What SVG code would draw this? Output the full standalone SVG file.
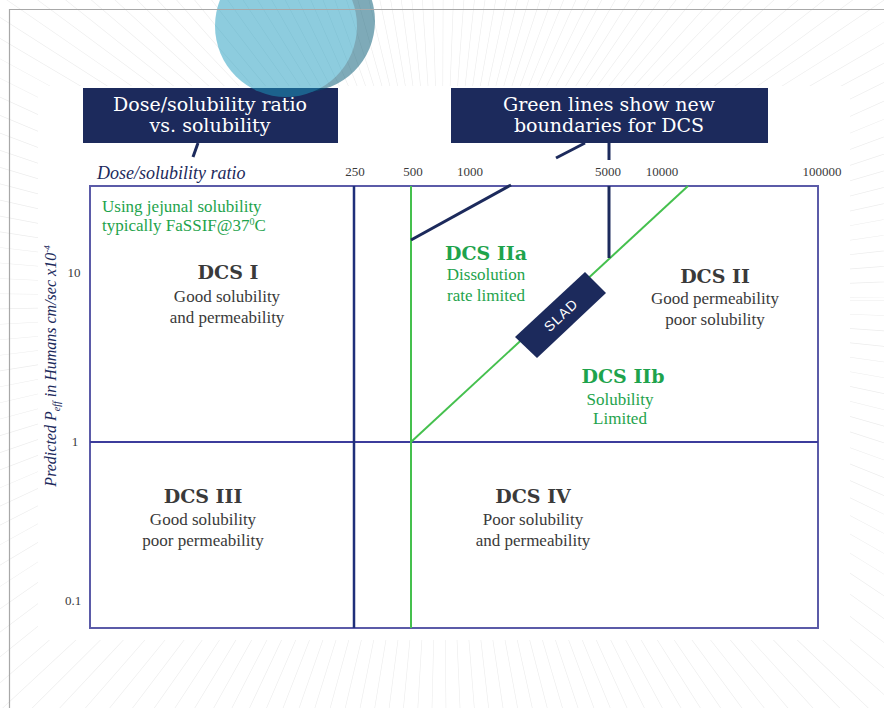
<svg xmlns="http://www.w3.org/2000/svg" width="884" height="708" viewBox="0 0 884 708">
<defs>
<style>
.tick{font-family:"Liberation Serif",serif;font-size:13px;fill:#3a3a3a;text-anchor:middle}
.head{font-family:"DejaVu Serif",serif;font-weight:bold;font-size:19px;fill:#3a3a3a;text-anchor:middle}
.body{font-family:"Liberation Serif",serif;font-size:17px;fill:#3a3a3a;text-anchor:middle}
.green{fill:#1ea34c}
.box{fill:#1c2a5c}
.boxt{font-family:"DejaVu Serif",serif;font-size:19px;fill:#fff;text-anchor:middle}
.navy{stroke:#1c2a5c;stroke-width:3;fill:none}
.gl{stroke:#45c04e;stroke-width:2;fill:none}
</style>
</defs>
<rect width="884" height="708" fill="#fff"/>
<circle cx="442" cy="300" r="450" fill="none" stroke="#ececec" stroke-width="900" stroke-dasharray="0.6 15"/>
<rect x="38" y="86" width="812" height="554" fill="#fff"/>

<g id="chart">
<rect x="90" y="186" width="728" height="442" fill="#fff" stroke="#5b5ba8" stroke-width="2"/>
<line x1="90" y1="442" x2="818" y2="442" stroke="#3c3c9c" stroke-width="2"/>
<line x1="354" y1="186" x2="354" y2="628" stroke="#1f2f7a" stroke-width="2.5"/>
<line x1="411" y1="186" x2="411" y2="628" class="gl"/>
<line x1="411" y1="442" x2="688" y2="186" class="gl"/>
</g>

<g id="axis-labels">
<text x="97" y="179" font-family="Liberation Serif,serif" font-style="italic" font-size="18" fill="#1c2a5c">Dose/solubility ratio</text>
<text class="tick" x="355" y="176">250</text>
<text class="tick" x="413" y="176">500</text>
<text class="tick" x="470" y="176">1000</text>
<text class="tick" x="608" y="176">5000</text>
<text class="tick" x="662" y="176">10000</text>
<text class="tick" x="822" y="176">100000</text>
<text class="tick" x="74" y="277">10</text>
<text class="tick" x="75" y="446">1</text>
<text class="tick" x="73" y="605">0.1</text>
<text transform="translate(56,366) rotate(-90)" text-anchor="middle" font-family="Liberation Serif,serif" font-style="italic" font-size="16" fill="#1c2a5c">Predicted P<tspan font-size="10" dy="4">eff</tspan><tspan dy="-4"> in Humans cm/sec x10</tspan><tspan font-size="9" dy="-6">-4</tspan></text>
</g>

<g id="note">
<text x="102" y="212" font-family="Liberation Serif,serif" font-size="17" class="green">Using jejunal solubility</text>
<text x="102" y="231" font-family="Liberation Serif,serif" font-size="17" class="green">typically FaSSIF@37<tspan font-size="10" dy="-6">0</tspan><tspan dy="6">C</tspan></text>
</g>

<g id="dcs1">
<text class="head" x="228" y="279">DCS I</text>
<text class="body" x="227" y="302">Good solubility</text>
<text class="body" x="227" y="323">and permeability</text>
</g>
<g id="dcs2a">
<text class="head green" x="486" y="260">DCS IIa</text>
<text class="body green" x="486" y="280">Dissolution</text>
<text class="body green" x="486" y="301">rate limited</text>
</g>
<g id="dcs2">
<text class="head" x="715" y="283">DCS II</text>
<text class="body" x="715" y="304">Good permeability</text>
<text class="body" x="715" y="325">poor solubility</text>
</g>
<g id="dcs2b">
<text class="head green" x="623" y="383">DCS IIb</text>
<text class="body green" x="620" y="405">Solubility</text>
<text class="body green" x="620" y="424">Limited</text>
</g>
<g id="dcs3">
<text class="head" x="203" y="503">DCS III</text>
<text class="body" x="203" y="525">Good solubility</text>
<text class="body" x="203" y="546">poor permeability</text>
</g>
<g id="dcs4">
<text class="head" x="533" y="503">DCS IV</text>
<text class="body" x="533" y="525">Poor solubility</text>
<text class="body" x="533" y="546">and permeability</text>
</g>

<g id="slad">
<polygon points="585,272 606,293 537,358 515,337" class="box"/>
<text transform="translate(561,315) rotate(-43)" text-anchor="middle" dy="5" font-family="Liberation Sans,sans-serif" font-size="14" fill="#fff" letter-spacing="1">SLAD</text>
</g>

<g id="connectors">
<line x1="198" y1="143" x2="193" y2="157" class="navy"/>
<line x1="609" y1="143" x2="609" y2="160" class="navy"/>
<line x1="585" y1="143" x2="556" y2="158" class="navy"/>
<line x1="511" y1="185" x2="411" y2="240" class="navy"/>
<line x1="609" y1="186" x2="609" y2="258" class="navy"/>
</g>

<g id="box1">
<rect x="83" y="88" width="255" height="55" class="box"/>
<text class="boxt" x="210" y="111">Dose/solubility ratio</text>
<text class="boxt" x="210" y="132">vs. solubility</text>
</g>
<g id="box2">
<rect x="451" y="88" width="317" height="55" class="box"/>
<text class="boxt" x="609" y="111">Green lines show new</text>
<text class="boxt" x="609" y="132">boundaries for DCS</text>
</g>

<g id="decor" opacity="0.5">
<circle cx="304" cy="21" r="71" fill="#005873"/>
<circle cx="286" cy="26" r="71" fill="#1d9bbf"/>
</g>
<path d="M9.5 708 V9.5 H884" fill="none" stroke="#a8a8a8" stroke-width="1.2"/>
</svg>
